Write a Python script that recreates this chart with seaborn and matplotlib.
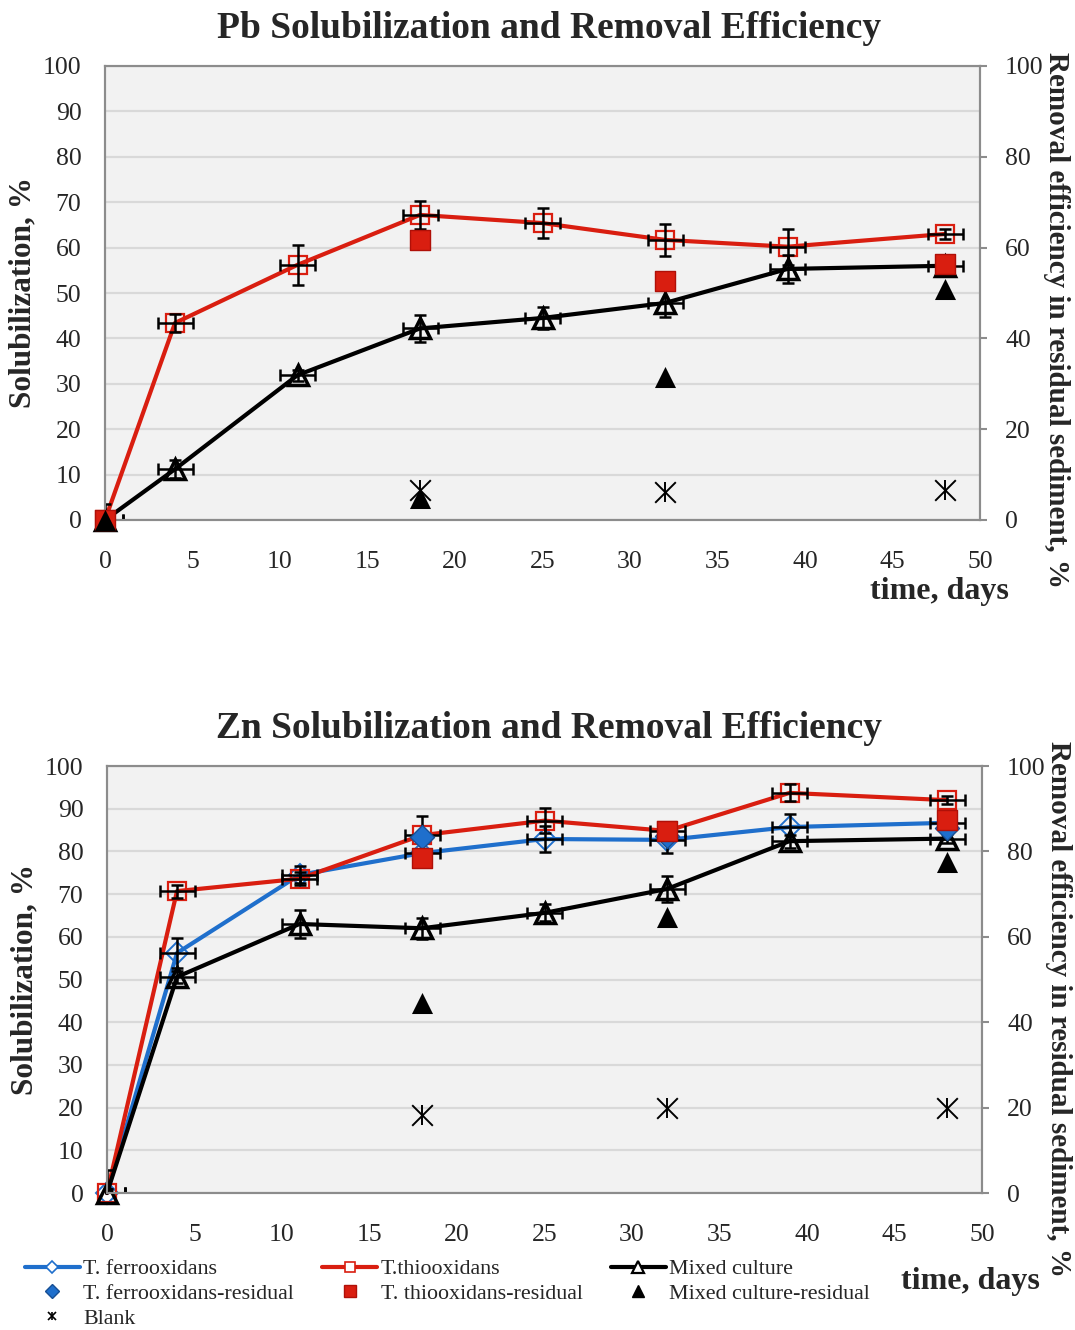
import numpy as np
import pandas as pd
import matplotlib
matplotlib.use("Agg")
import matplotlib.pyplot as plt
import seaborn as sns
from matplotlib.lines import Line2D

# ---------------- data ----------------
days = [0, 4, 11, 18, 25, 32, 39, 48]
res_days_pb = [0, 18, 32, 48]
res_days_zn = [18, 32, 48]
blank_days = [18, 32, 48]

pb_thio = [0, 43.4, 56.2, 67.2, 65.4, 61.7, 60.2, 63.0]
pb_thio_err = [1.0, 2.0, 4.4, 3.0, 3.3, 3.5, 4.0, 1.0]
pb_mixed = [0, 11.2, 31.9, 42.2, 44.5, 47.8, 55.3, 56.0]
pb_mixed_err = [3.5, 2.0, 1.2, 3.0, 2.5, 3.0, 3.0, 1.0]
pb_thio_res = [0, 61.7, 52.6, 56.4]
pb_mixed_res = [0, 4.8, 31.5, 50.9]
pb_blank = [6.5, 6.2, 6.6]

zn_ferro = [0, 56.2, 74.5, 79.6, 82.9, 82.7, 85.7, 86.7]
zn_ferro_err = [1.0, 3.5, 2.0, 2.5, 3.0, 3.0, 3.0, 1.0]
zn_thio = [0, 70.7, 73.6, 83.8, 87.2, 84.8, 93.7, 92.0]
zn_thio_err = [1.0, 1.5, 1.5, 4.5, 3.0, 1.0, 2.0, 1.0]
zn_mixed = [0, 50.6, 63.0, 62.0, 65.6, 71.2, 82.4, 83.0]
zn_mixed_err = [5.4, 1.5, 3.3, 2.5, 2.0, 3.0, 1.5, 1.0]
zn_ferro_res = [83.4, 83.5, 85.5]
zn_thio_res = [78.5, 84.8, 87.4]
zn_mixed_res = [44.5, 64.6, 77.5]
zn_blank = [18.3, 19.9, 19.9]

day_err = 1.0

titles = ["Pb Solubilization and Removal Efficiency",
          "Zn Solubilization and Removal Efficiency"]
ylabel_left = "Solubilization, %"
ylabel_right = "Removal efficiency in residual sediment, %"
xlabel = "time, days"

BLUE = "#1f6fcc"
RED = "#d91e10"
BLACK = "#000000"

TICK_FS = 18.5
YLAB_FS = 22.5
RLAB_FS = 21

sns.set_style("white")
plt.rcParams['font.family'] = ['Liberation Serif', 'DejaVu Serif']

fig = plt.figure(figsize=(10.75, 13.3), dpi=100)

ax_pb = fig.add_axes([105/1075, 1-520/1330, 875/1075, 454/1330])
ax_zn = fig.add_axes([107/1075, 1-1193/1330, 875/1075, 427/1330])


def style_axes(ax):
    ax.set_facecolor("#f2f2f2")
    ax.set_xlim(0, 50)
    ax.set_ylim(0, 100)
    ax.set_xticks(range(0, 51, 5))
    ax.set_yticks(range(0, 101, 10))
    ax.yaxis.grid(True, color="#d9d9d9", linewidth=1.6)
    ax.xaxis.grid(False)
    ax.set_axisbelow(True)
    for s in ax.spines.values():
        s.set_color("#8c8c8c")
        s.set_linewidth(1.5)
    ax.tick_params(axis="x", length=0, pad=22, labelsize=TICK_FS)
    ax.tick_params(axis="y", length=0, pad=17, labelsize=TICK_FS)
    ax.set_xlabel("")
    ax.set_ylabel(ylabel_left, fontsize=YLAB_FS, fontweight="bold")
    ax.yaxis.set_label_coords(-0.077, 0.5)


def draw_series(ax, y, yerr, color, marker, mfc, mec, ms, mew):
    sns.lineplot(x=days, y=y, ax=ax, color=color, linewidth=3.0,
                 marker=marker, markersize=ms, markerfacecolor=mfc,
                 markeredgecolor=mec, markeredgewidth=mew, zorder=3,
                 clip_on=False)
    ax.errorbar(days, y, yerr=yerr, xerr=day_err, fmt="none", ecolor="black",
                elinewidth=1.8, capsize=4.5, capthick=1.8, zorder=4)


def style_right(ax2, ylab_y):
    ax2.set_ylim(0, 100)
    ax2.set_yticks(range(0, 101, 20))
    ax2.tick_params(axis="y", length=5, width=1.5, color="#8c8c8c", pad=13,
                    labelsize=TICK_FS)
    ax2.set_ylabel(ylabel_right, fontsize=RLAB_FS, fontweight="bold", rotation=-90)
    ax2.yaxis.set_label_coords(1.103, ylab_y)
    for s in ax2.spines.values():
        s.set_color("#8c8c8c")
        s.set_linewidth(1.5)
    ax2.grid(False)


def draw_blank(ax2, y):
    sns.scatterplot(x=blank_days, y=y, ax=ax2, marker="x", s=220,
                    color=BLACK, linewidth=1.4, zorder=6)
    sns.scatterplot(x=blank_days, y=y, ax=ax2, marker="|", s=220,
                    color=BLACK, linewidth=1.4, zorder=6)


# ---------------- Pb ----------------
style_axes(ax_pb)
draw_series(ax_pb, pb_thio, pb_thio_err, RED, "s", "none", RED, 13, 1.6)
draw_series(ax_pb, pb_mixed, pb_mixed_err, BLACK, "^", "none", BLACK, 14, 2.5)
ax_pb2 = ax_pb.twinx()
style_right(ax_pb2, 0.44)
sns.scatterplot(x=res_days_pb, y=pb_thio_res, ax=ax_pb2, marker="s", s=200,
                color=RED, edgecolor="#b01008", linewidth=1, zorder=5, clip_on=False)
sns.scatterplot(x=res_days_pb, y=pb_mixed_res, ax=ax_pb2, marker="^", s=230,
                color=BLACK, edgecolor=BLACK, linewidth=0, zorder=5, clip_on=False)
draw_blank(ax_pb2, pb_blank)
ax_pb2.set_xlim(0, 50)

# ---------------- Zn ----------------
style_axes(ax_zn)
draw_series(ax_zn, zn_ferro, zn_ferro_err, BLUE, "D", "none", BLUE, 11, 1.4)
draw_series(ax_zn, zn_thio, zn_thio_err, RED, "s", "none", RED, 13, 1.6)
draw_series(ax_zn, zn_mixed, zn_mixed_err, BLACK, "^", "none", BLACK, 14, 2.5)
ax_zn2 = ax_zn.twinx()
style_right(ax_zn2, 0.43)
sns.scatterplot(x=res_days_zn, y=zn_ferro_res, ax=ax_zn2, marker="D", s=150,
                color=BLUE, edgecolor="#174f94", linewidth=1, zorder=5)
sns.scatterplot(x=res_days_zn, y=zn_thio_res, ax=ax_zn2, marker="s", s=200,
                color=RED, edgecolor="#b01008", linewidth=1, zorder=5)
sns.scatterplot(x=res_days_zn, y=zn_mixed_res, ax=ax_zn2, marker="^", s=230,
                color=BLACK, edgecolor=BLACK, linewidth=0, zorder=5)
draw_blank(ax_zn2, zn_blank)
ax_zn2.set_xlim(0, 50)

# titles and x labels
fig.text(549/1075, 1-28/1330, titles[0], ha="center", va="center",
         fontsize=27, fontweight="bold")
fig.text(549/1075, 1-728/1330, titles[1], ha="center", va="center",
         fontsize=27, fontweight="bold")
fig.text(939/1075, 1-591/1330, xlabel, ha="center", va="center",
         fontsize=23, fontweight="bold")
fig.text(970/1075, 1-1282/1330, xlabel, ha="center", va="center",
         fontsize=23, fontweight="bold")

# legend
blank_h = (Line2D([], [], color=BLACK, lw=0, marker="x", ms=6, mew=1.2),
           Line2D([], [], color=BLACK, lw=0, marker="|", ms=6, mew=1.2))
handles = [
    Line2D([], [], color=BLUE, lw=3, marker="D", ms=6, mfc="white", mec=BLUE, mew=1.2),
    Line2D([], [], color=BLUE, lw=0, marker="D", ms=7, mfc=BLUE, mec="#174f94"),
    blank_h,
    Line2D([], [], color=RED, lw=3, marker="s", ms=7, mfc="white", mec=RED, mew=1.2),
    Line2D([], [], color=RED, lw=0, marker="s", ms=9, mfc=RED, mec="#b01008"),
    Line2D([], [], color=BLACK, lw=3, marker="^", ms=8, mfc="white", mec=BLACK, mew=1.6),
    Line2D([], [], color=BLACK, lw=0, marker="^", ms=9, mfc=BLACK, mec=BLACK),
]
labels = ["T. ferrooxidans", "T. ferrooxidans-residual", "Blank",
          "T.thiooxidans", "T. thiooxidans-residual",
          "Mixed culture", "Mixed culture-residual"]
fig.legend(handles, labels, ncol=3, loc="upper left",
           bbox_to_anchor=(25/1075, 1-1259/1330), frameon=False,
           fontsize=15.8, handlelength=2.5, handletextpad=0.15,
           columnspacing=1.3, labelspacing=0.2, borderpad=0, borderaxespad=0)

fig.savefig("out.png", dpi=100)
